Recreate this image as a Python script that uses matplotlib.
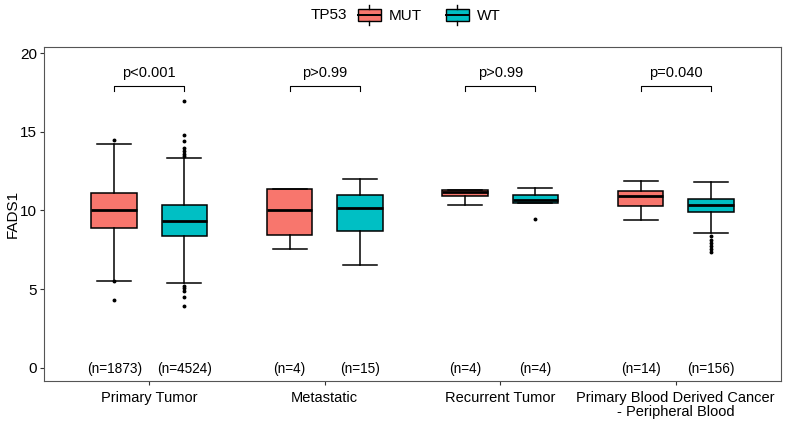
import matplotlib
matplotlib.use('Agg')
import matplotlib.pyplot as plt
from matplotlib.patches import Patch, Rectangle
from matplotlib.lines import Line2D
from matplotlib.legend_handler import HandlerBase
from matplotlib.offsetbox import HPacker

plt.rcParams['font.family'] = ['Liberation Sans', 'DejaVu Sans']

categories = ['Primary Tumor', 'Metastatic', 'Recurrent Tumor',
              'Primary Blood Derived Cancer\n- Peripheral Blood']
groups = ['MUT', 'WT']
colors = {'MUT': '#F8766D', 'WT': '#00BFC4'}

# box stats: (whislo, q1, med, q3, whishi)
mut_stats = [(5.5, 8.86, 10.0, 11.1, 14.2),
             (7.54, 8.46, 10.05, 11.37, 11.37),
             (10.37, 10.9, 11.15, 11.3, 11.3),
             (9.37, 10.28, 10.9, 11.23, 11.88)]
wt_stats = [(5.37, 8.39, 9.35, 10.35, 13.33),
            (6.52, 8.72, 10.14, 10.99, 12.0),
            (10.46, 10.46, 10.65, 10.99, 11.41),
            (8.58, 9.88, 10.33, 10.71, 11.8)]
mut_fliers = [[14.46, 5.5, 4.3], [], [], []]
wt_fliers = [[16.95, 14.8, 14.4, 14.0, 13.8, 13.6, 13.45, 5.2, 5.05, 4.9, 4.5, 3.9],
             [], [9.46],
             [8.35, 8.15, 7.95, 7.75, 7.55, 7.35]]
n_mut = [1873, 4, 4, 14]
n_wt = [4524, 15, 4, 156]
p_labels = ['p<0.001', 'p>0.99', 'p>0.99', 'p=0.040']


def make_bxp(stats, fliers):
    out = []
    for s, f in zip(stats, fliers):
        out.append(dict(whislo=s[0], q1=s[1], med=s[2], q3=s[3], whishi=s[4], fliers=f))
    return out


class BoxKey(HandlerBase):
    # small boxplot glyph like the ggplot legend key
    def create_artists(self, legend, orig_handle, xdescent, ydescent, width, height,
                       fontsize, trans):
        fc = orig_handle.get_facecolor()
        bw, bh = width, height * 0.8
        y0 = (height - bh) / 2 - ydescent
        x0 = -xdescent
        box = Rectangle((x0, y0), bw, bh, facecolor=fc, edgecolor='black',
                        linewidth=1.0, transform=trans)
        med = Line2D([x0, x0 + bw], [y0 + bh / 2] * 2, color='black', linewidth=1.4,
                     transform=trans)
        xm = x0 + bw / 2
        w1 = Line2D([xm, xm], [y0 + bh, height - ydescent + 2], color='black',
                    linewidth=1.0, transform=trans)
        w2 = Line2D([xm, xm], [y0, -ydescent - 2], color='black', linewidth=1.0,
                    transform=trans)
        return [box, med, w1, w2]


fig = plt.figure(figsize=(7.87, 4.22), dpi=100)
ax = fig.add_axes([44 / 787, 1 - 381 / 422, 737 / 787, 334 / 422])

dodge = 0.2
width = 0.26
xs = list(range(1, len(categories) + 1))
for name, stats, fl, off in [('MUT', mut_stats, mut_fliers, -dodge),
                             ('WT', wt_stats, wt_fliers, dodge)]:
    ax.bxp(make_bxp(stats, fl), positions=[x + off for x in xs], widths=width,
           patch_artist=True, showcaps=True,
           boxprops=dict(facecolor=colors[name], edgecolor='black', linewidth=1.1),
           medianprops=dict(color='black', linewidth=2),
           whiskerprops=dict(color='black', linewidth=1.1),
           capprops=dict(color='black', linewidth=1.1),
           capwidths=width * 0.75,
           flierprops=dict(marker='o', markersize=1.8, markerfacecolor='black',
                           markeredgecolor='black', linestyle='none'))

# brackets and p-values
for x, p in zip(xs, p_labels):
    x0, x1 = x - dodge, x + dodge
    ax.plot([x0, x0, x1, x1], [17.6, 17.9, 17.9, 17.6], color='black', linewidth=0.8)
    ax.text(x, 18.3, p, ha='center', va='bottom', fontsize=10.5)

# sample sizes
for x, a, b in zip(xs, n_mut, n_wt):
    ax.text(x - dodge, -0.1, f'(n={a})', ha='center', va='center', fontsize=9.8)
    ax.text(x + dodge, -0.1, f'(n={b})', ha='center', va='center', fontsize=9.8)

ax.set_xlim(0.4, 4.6)
ax.set_ylim(-0.85, 20.4)
ax.set_xticks(xs)
ax.set_xticklabels(categories, fontsize=10.5, linespacing=1.0)
ax.set_yticks([0, 5, 10, 15, 20])
ax.set_yticklabels(['0', '5', '10', '15', '20'], fontsize=11)
ax.set_ylabel('FADS1', fontsize=11)
ax.yaxis.set_label_coords(-0.033, 0.5)
ax.tick_params(length=3, color='#333333', pad=2)
ax.tick_params(axis='x', pad=4)
for s in ax.spines.values():
    s.set_color('#555555')
    s.set_linewidth(0.8)

handles = [Patch(facecolor=colors[g], edgecolor='black', label=g) for g in groups]
leg = fig.legend(handles=handles, title='TP53', loc='upper center',
                 bbox_to_anchor=(0.515, 1.015), ncol=2, frameon=False, fontsize=11,
                 title_fontsize=11, handlelength=1.5, handleheight=1.1,
                 columnspacing=1.6, handletextpad=0.5,
                 handler_map={Patch: BoxKey()})
# put title inline with the entries
title_box = leg._legend_title_box
body = leg._legend_box._children[1]
leg._legend_box._children = [HPacker(children=[title_box, body], pad=0, sep=8, align='center')]

fig.savefig('out.png', dpi=100)
